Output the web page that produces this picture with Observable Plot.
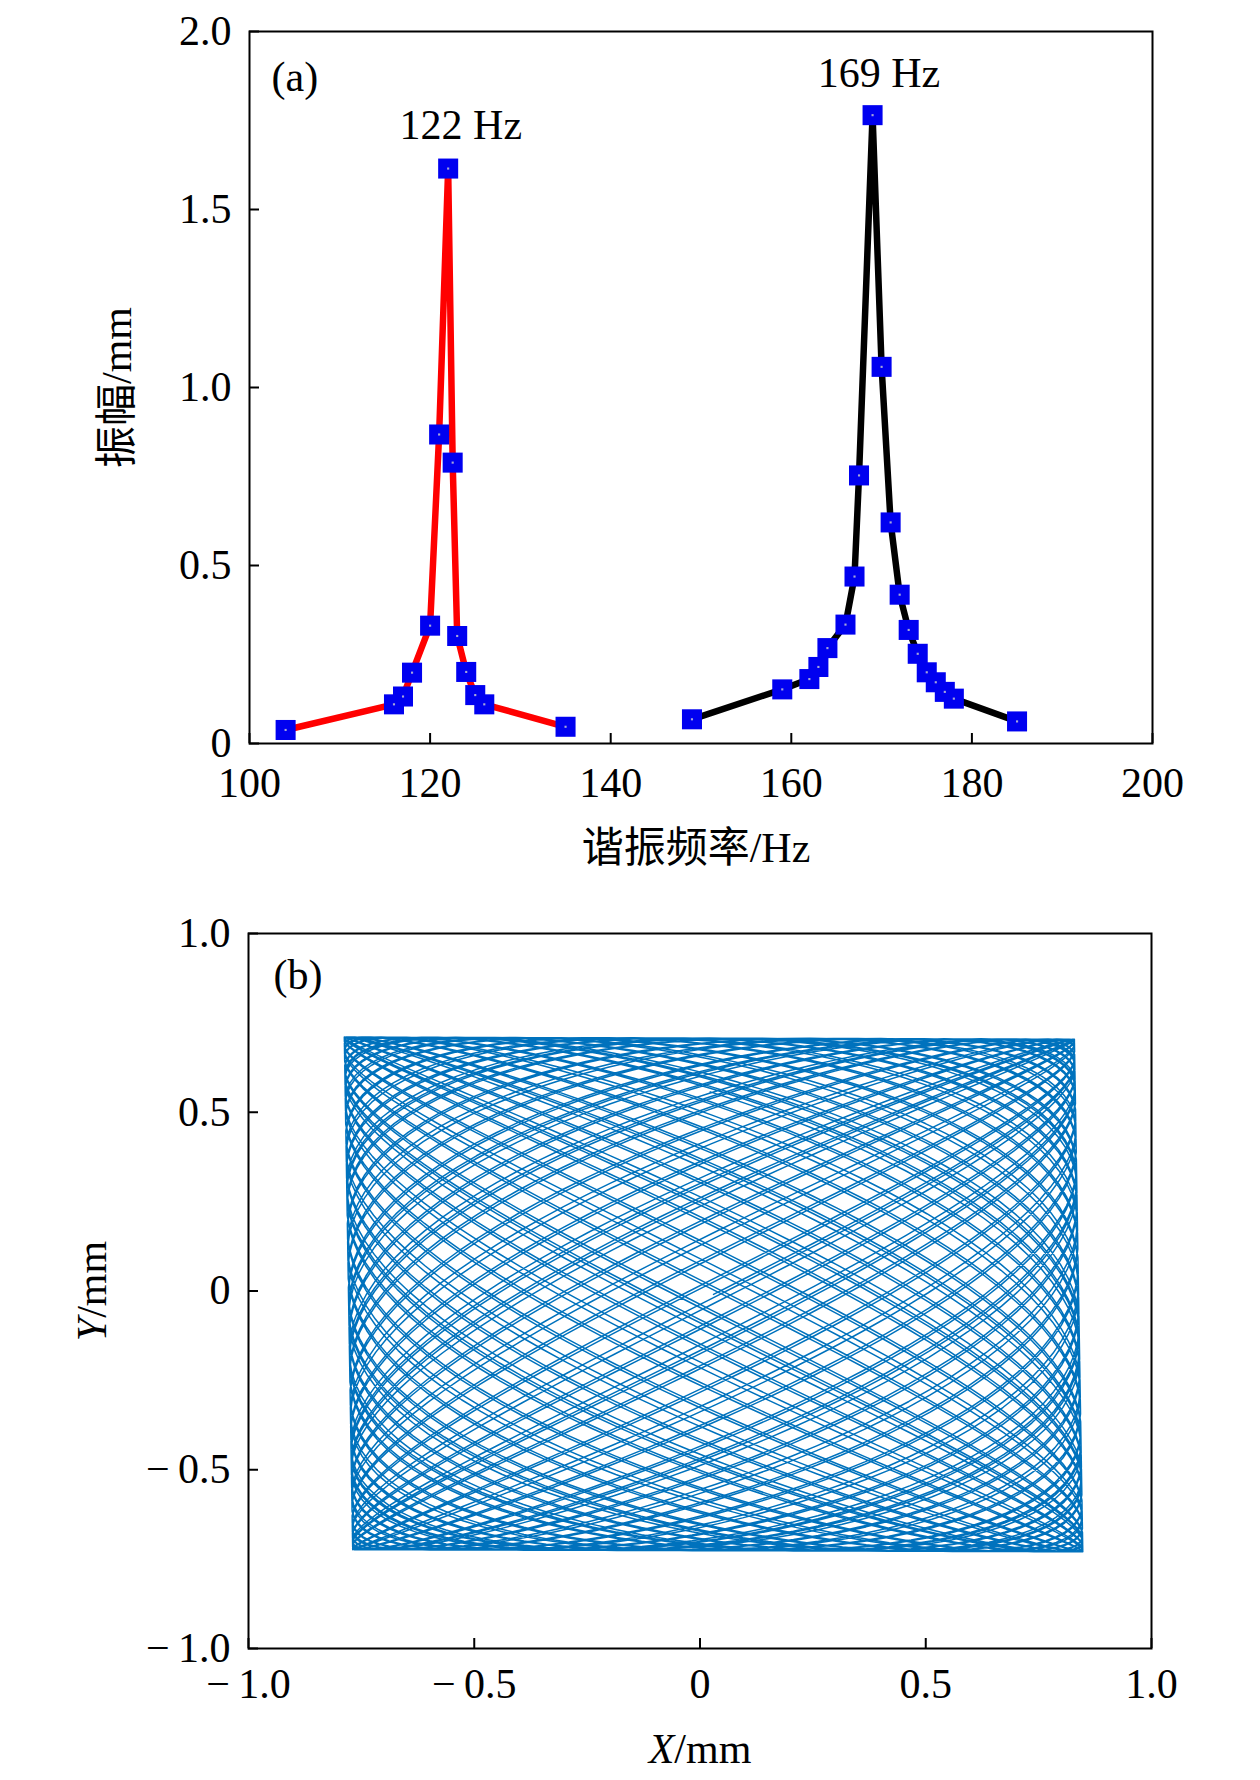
<!DOCTYPE html>
<html>
<head>
<meta charset="utf-8">
<script src="https://cdn.jsdelivr.net/npm/d3@7"></script>
<script src="https://cdn.jsdelivr.net/npm/@observablehq/plot@0.6"></script>
<style>
html, body { margin: 0; padding: 0; background: #fff; }
#chart svg { display: block; }
</style>
</head>
<body>
<div id="chart"></div>
<script>
// ---------- Panel (a): resonance curves ----------
const redFreq  = [104, 116, 117, 118, 120, 121, 122, 122.5, 123, 124, 125, 126, 135];
const redAmp   = [0.038, 0.110, 0.132, 0.199, 0.331, 0.868, 1.615, 0.789, 0.302, 0.201, 0.136, 0.110, 0.047];
const blackFreq = [149, 159, 162, 163, 164, 166, 167, 167.5, 169, 170, 171, 172, 173, 174, 175, 176, 177, 178, 185];
const blackAmp  = [0.068, 0.152, 0.181, 0.215, 0.268, 0.334, 0.469, 0.753, 1.765, 1.058, 0.621, 0.418, 0.319, 0.252, 0.200, 0.172, 0.145, 0.126, 0.062];
const xTicksA = [100, 120, 140, 160, 180, 200];
const yTicksA = [0, 0.5, 1.0, 1.5, 2.0];
const peakLabels = ["122 Hz", "169 Hz"];
const peakLabelX = [123.4, 169.7];
const peakLabelY = [1.737, 1.883];

// ---------- Panel (b): scanning trajectory (two resonant modes) ----------
const trajFreq   = [169, 122.29];   // Hz, X and Y mode
const trajAmp    = [0.809, 0.717];  // mm
const trajCenter = [0.030, -0.0095];
const trajShear  = [-0.0093, -0.003];
const trajPhase  = [0, 0];
const trajDuration = 0.5;           // s
const ticksB = [-1, -0.5, 0, 0.5, 1];

const serif = "'Liberation Serif','Times New Roman','Noto Sans CJK SC',serif";
const W = 1260;

const red = redFreq.map((f, i) => ({f, a: redAmp[i]}));
const black = blackFreq.map((f, i) => ({f, a: blackAmp[i]}));
const allPts = red.concat(black);
const peaks = peakLabels.map((t, i) => ({t, x: peakLabelX[i], y: peakLabelY[i]}));

const fmtA = d => d === 0 ? "0" : d.toFixed(1);
const fmtB = d => d === 0 ? "0" : (d < 0 ? "\u2212\u2009" : "") + Math.abs(d).toFixed(1);

const plotA = Plot.plot({
  width: W, height: 880,
  marginLeft: 249, marginRight: 108, marginTop: 31, marginBottom: 137,
  style: {fontFamily: serif, background: "white", color: "black"},
  x: {domain: [100, 200]},
  y: {domain: [0, 2]},
  marks: [
    Plot.axisX({ticks: xTicksA, tickSize: 0, tickPadding: 24, fontSize: 42, label: null, tickFormat: d => String(d)}),
    Plot.axisY({ticks: yTicksA, tickSize: 0, tickPadding: 18, fontSize: 42, label: null, tickFormat: fmtA}),
    Plot.tickX(xTicksA, {x: d => d, insetTop: 702, stroke: "black", strokeWidth: 2}),
    Plot.tickY(yTicksA, {y: d => d, insetRight: 893, stroke: "black", strokeWidth: 2}),
    Plot.line(red, {x: "f", y: "a", stroke: "#ff0000", strokeWidth: 6.5}),
    Plot.line(black, {x: "f", y: "a", stroke: "#000000", strokeWidth: 6.5}),
    Plot.dot(allPts, {x: "f", y: "a", symbol: "square", r: 11.3, fill: "#0000f0", stroke: "none"}),
    Plot.dot(allPts, {x: "f", y: "a", symbol: "square", r: 1.2, fill: "#a8a8d8", stroke: "none"}),
    Plot.frame({stroke: "black", strokeWidth: 2}),
    Plot.text(peaks, {x: "x", y: "y", text: "t", fontSize: 42, fill: "black", lineAnchor: "middle", style: "letter-spacing:1px"}),
    Plot.text(["(a)"], {frameAnchor: "top-left", dx: 22, dy: 46, fontSize: 42, textAnchor: "start", lineAnchor: "middle", fill: "black"}),
    Plot.text(["谐振频率/Hz"], {frameAnchor: "bottom", dx: -5, dy: 105, fontSize: 42, textAnchor: "middle", lineAnchor: "middle", fill: "black"}),
    Plot.text(["振幅/mm"], {frameAnchor: "left", dx: -132, rotate: -90, fontSize: 42, textAnchor: "middle", lineAnchor: "middle", fill: "black"})
  ]
});

// trajectory points
const traj = [];
const nSamples = Math.round(trajDuration * trajFreq[0] * 90);
for (let k = 0; k <= nSamples; ++k) {
  const t = trajDuration * k / nSamples;
  const sx = Math.sin(2 * Math.PI * trajFreq[0] * t + trajPhase[0]);
  const sy = Math.sin(2 * Math.PI * trajFreq[1] * t + trajPhase[1]);
  traj.push({
    x: trajCenter[0] + trajAmp[0] * sx + trajShear[0] * sy,
    y: trajCenter[1] + trajAmp[1] * sy + trajShear[1] * sx
  });
}

const plotB = Plot.plot({
  width: W, height: 900,
  marginLeft: 248, marginRight: 109, marginTop: 53, marginBottom: 132,
  style: {fontFamily: serif, background: "white", color: "black"},
  x: {domain: [-1, 1]},
  y: {domain: [-1, 1]},
  marks: [
    Plot.line(traj, {x: "x", y: "y", stroke: "#0072BD", strokeWidth: 1.5}),
    Plot.axisX({ticks: ticksB, tickSize: 0, tickPadding: 20, fontSize: 42, label: null, tickFormat: fmtB}),
    Plot.axisY({ticks: ticksB, tickSize: 0, tickPadding: 18, fontSize: 42, label: null, tickFormat: fmtB}),
    Plot.tickX(ticksB, {x: d => d, insetTop: 705, stroke: "black", strokeWidth: 2}),
    Plot.tickY(ticksB, {y: d => d, insetRight: 893, stroke: "black", strokeWidth: 2}),
    Plot.frame({stroke: "black", strokeWidth: 2}),
    Plot.text(["(b)"], {frameAnchor: "top-left", dx: 25, dy: 42, fontSize: 42, textAnchor: "start", lineAnchor: "middle", fill: "black"}),
    Plot.text(["X/mm"], {frameAnchor: "bottom", dy: 101, fontSize: 42, textAnchor: "middle", lineAnchor: "middle", fill: "black"}),
    Plot.text(["Y/mm"], {frameAnchor: "left", dx: -156, rotate: -90, fontSize: 42, textAnchor: "middle", lineAnchor: "middle", fill: "black"})
  ]
});

const chart = document.getElementById("chart");
chart.appendChild(plotA);
chart.appendChild(plotB);

// italic variable letter in axis labels
const SVGNS = "http://www.w3.org/2000/svg";
for (const el of chart.querySelectorAll("text")) {
  const s = el.textContent;
  if (s === "X/mm" || s === "Y/mm") {
    el.textContent = "";
    const v = document.createElementNS(SVGNS, "tspan");
    v.setAttribute("font-style", "italic");
    v.textContent = s[0];
    const r = document.createElementNS(SVGNS, "tspan");
    r.textContent = "/mm";
    el.appendChild(v);
    el.appendChild(r);
  }
}
</script>
</body>
</html>
